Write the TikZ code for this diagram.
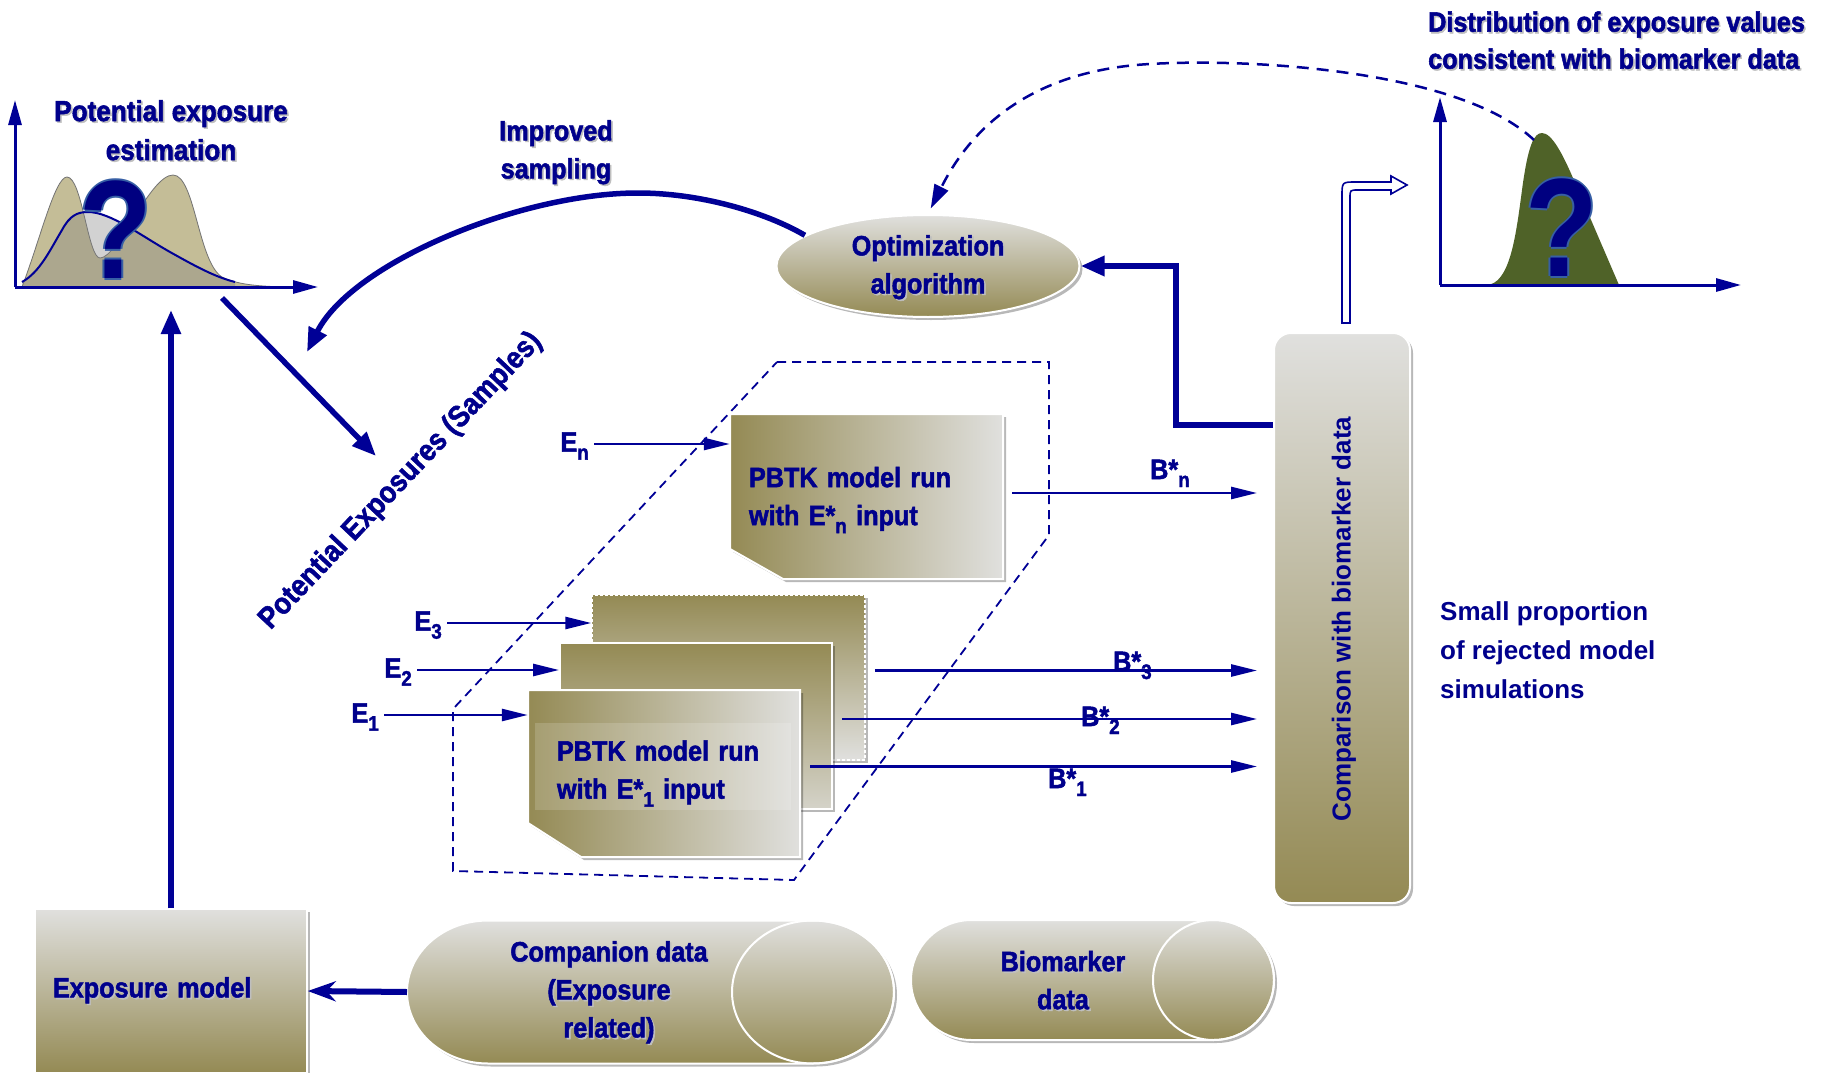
\documentclass[tikz,border=0pt]{standalone}
\usepackage{fontspec}
\setmainfont{Liberation Sans}
\newfontfamily\headfont[FakeStretch=0.9,FakeBold=1.8]{Liberation Sans}
\newfontfamily\qmfont[FakeStretch=0.85]{Liberation Sans}
\usetikzlibrary{arrows.meta,shapes.geometric,shadows,calc}

\definecolor{tanD}{RGB}{148,138,84}
\definecolor{lightG}{RGB}{224,224,222}
\definecolor{ink}{RGB}{0,0,140}
\definecolor{lineblue}{RGB}{0,0,150}
\definecolor{qnavy}{RGB}{0,0,128}
\definecolor{qedge}{RGB}{55,95,165}
\definecolor{hump}{RGB}{196,189,151}
\definecolor{olive}{RGB}{79,98,40}

% text with a soft grey drop shadow
\newcommand\txsh[1]{\leavevmode\rlap{\kern1.6pt\raisebox{-1.6pt}{\color{black!25}#1}}#1}
% lowered index after E* / B*
\newcommand\lsub[1]{\raisebox{-8pt}{\fontsize{21}{21}\selectfont #1}}
% outlined question mark
\newcommand\qglyph{\leavevmode
  \rlap{\kern-2pt\color{qedge}?}\rlap{\kern2pt\color{qedge}?}%
  \rlap{\raisebox{2pt}{\color{qedge}?}}\rlap{\raisebox{-2pt}{\color{qedge}?}}?}

\begin{document}
\begin{tikzpicture}[x=1pt,y=-1pt,
  head/.style={font=\headfont\bfseries\fontsize{28}{38}\selectfont, text=ink, align=center, inner sep=0pt},
  plain/.style={font=\bfseries\fontsize{26}{39}\selectfont, text=ink, align=left, inner sep=0pt},
  idx/.style={font=\headfont\bfseries\fontsize{28}{34}\selectfont, text=ink, inner sep=0pt},
  fatarrow/.style={draw=lineblue, line width=5.5pt, -{Triangle[length=24pt,width=19pt]}},
  slimarrow/.style={draw=lineblue, line width=2.6pt, -{Triangle[length=26pt,width=12pt]}},
  axisarrow/.style={draw=lineblue, line width=3pt, -{Triangle[length=25pt,width=13pt]}},
  softshadow/.style={drop shadow={shadow xshift=3pt, shadow yshift=-3pt, opacity=0.28, fill=black}},
  vgrad/.style={top color=lightG, bottom color=tanD},
  hgrad/.style={left color=tanD, right color=lightG},
  qmark/.style={font=\qmfont\bfseries\fontsize{140}{140}\selectfont, text=qnavy, inner sep=0pt},
  boxtext/.style={font=\headfont\bfseries\fontsize{28}{38}\selectfont, text=ink, align=left,
                  inner ysep=0pt, minimum height=165pt}
]
\useasboundingbox (0,0) rectangle (1832,1073);
\fill[white] (0,0) rectangle (1832,1073);

% ---------- left chart: potential exposure ----------
\filldraw[fill=hump, draw=black!55, line width=0.8pt]
  (22,287) .. controls (40,240) and (55,177) .. (67,177)
  .. controls (82,177) and (88,258) .. (100,258)
  .. controls (118,258) and (150,175) .. (173,175)
  .. controls (195,175) and (198,262) .. (222,277)
  .. controls (240,286) and (265,286) .. (282,287) -- cycle;
\fill[gray, opacity=0.35]
  (22,282) .. controls (40,272) and (50,250) .. (62,230)
  .. controls (70,215) and (78,212) .. (88,212)
  .. controls (110,212) and (140,235) .. (170,252)
  .. controls (195,266) and (215,277) .. (235,282) -- (235,287) -- (22,287) -- cycle;
\draw[lineblue, line width=2pt]
  (22,282) .. controls (40,272) and (50,250) .. (62,230)
  .. controls (70,215) and (78,212) .. (88,212)
  .. controls (110,212) and (140,235) .. (170,252)
  .. controls (195,266) and (215,277) .. (235,282);
\coordinate (oL) at (15,287);
\coordinate (yL) at (15,100);
\coordinate (xL) at (318,287);
\draw[axisarrow] (oL) -- (yL);
\draw[axisarrow] (oL) -- (xL);
\node[qmark] (qL) at (116,230) {\qglyph};
\node[head, font=\headfont\bfseries\fontsize{29}{39}\selectfont] (ttlL) at (171,131)
  {\txsh{Potential exposure}\\\txsh{estimation}};

% ---------- right chart: accepted exposure distribution ----------
\fill[olive] (1486,285) .. controls (1510,285) and (1516,235) .. (1522,190)
  .. controls (1528,145) and (1534,133) .. (1542,133)
  .. controls (1552,133) and (1563,155) .. (1573,178) -- (1619,285) -- cycle;
\coordinate (oR) at (1440,285);
\coordinate (yR) at (1440,97);
\coordinate (xR) at (1741,285);
\draw[axisarrow] (oR) -- (yR);
\draw[axisarrow] (oR) -- (xR);
\node[qmark] (qR) at (1562,228) {\qglyph};
\node[head, align=left, anchor=west, font=\headfont\bfseries\fontsize{28}{37}\selectfont] (ttlR) at (1428,41)
  {\txsh{Distribution of exposure values}\\\txsh{consistent with biomarker data}};

% ---------- dashed frame round the model runs ----------
\draw[lineblue, line width=1.8pt, dash pattern=on 9pt off 6pt]
  (777,362) -- (1049,362) -- (1049,535) -- (794,880) -- (453,871) -- (453,709) -- cycle;

% ---------- stacked PBTK model runs ----------
\node[draw=white, line width=1.5pt, dash pattern=on 3pt off 2pt, top color=tanD, bottom color=lightG,
      minimum width=273pt, minimum height=165pt, inner sep=0pt, softshadow] (b3) at (728.5,677.5) {};
\node[draw=white, line width=2pt, top color=tanD, bottom color=lightG!85!tanD,
      minimum width=272pt, minimum height=166pt, inner sep=0pt, softshadow] (b2) at (696,726) {};
\shadedraw[hgrad, draw=white, line width=2pt, softshadow]
  (528,690) -- (800,690) -- (800,857) -- (581,857) -- (528,823) -- cycle;
\fill[white, opacity=0.16] (535,723) rectangle (791,810);
\node[boxtext, minimum width=272pt, text width=214pt, inner xsep=29pt, minimum height=167pt] (b1) at (664,773.5)
  {PBTK model run\\with E*\lsub{1} input};

\shadedraw[hgrad, draw=white, line width=2pt, softshadow]
  (730,414) -- (1003,414) -- (1003,579) -- (783,579) -- (730,549) -- cycle;
\node[boxtext, minimum width=273pt, text width=235pt, inner xsep=19pt] (bn) at (866.5,500)
  {PBTK model run\\with E*\lsub{n} input};

% ---------- sampled exposures entering the runs ----------
\node[idx, anchor=mid east, inner xsep=5pt] (En) at (594,449) {E\lsub{n}};
\node[idx, anchor=mid east, inner xsep=5pt] (E3) at (447,628) {E\lsub{3}};
\node[idx, anchor=mid east, inner xsep=5pt] (E2) at (417,675) {E\lsub{2}};
\node[idx, anchor=mid east, inner xsep=5pt] (E1) at (384,720) {E\lsub{1}};
\draw[slimarrow] ([yshift=5pt]En.mid east) -- ([yshift=5pt]En.mid east -| bn.west);
\draw[slimarrow] ([yshift=5pt]E3.mid east) -- ([yshift=5pt]E3.mid east -| b3.west);
\draw[slimarrow] ([yshift=5pt]E2.mid east) -- ([yshift=5pt]E2.mid east -| b2.west);
\draw[slimarrow] ([yshift=5pt]E1.mid east) -- ([yshift=5pt]E1.mid east -| b1.west);

% ---------- comparison with biomarker data ----------
\node[rectangle, rounded corners=17pt, vgrad, draw=white, line width=2pt, softshadow,
      minimum width=136pt, minimum height=570pt, inner sep=0pt] (cmp) at (1342,618) {};
\node[plain, rotate=90] (cmptxt) at (1344,619) {Comparison with biomarker data};

% ---------- predicted biomarker levels ----------
\draw[slimarrow, shorten <=9pt, shorten >=16pt] ([yshift=7pt]bn.east) -- ([yshift=7pt]bn.east -| cmp.west);
\draw[slimarrow, shorten <=9pt, shorten >=16pt] ([yshift=7pt]b3.east) -- ([yshift=7pt]b3.east -| cmp.west);
\draw[slimarrow, shorten <=9pt, shorten >=16pt] ([yshift=7pt]b2.east) -- ([yshift=7pt]b2.east -| cmp.west);
\draw[slimarrow, shorten <=10pt, shorten >=16pt] ([yshift=7pt]b1.east) -- ([yshift=7pt]b1.east -| cmp.west);
\node[idx, anchor=base west] (Bn) at (1150,479) {B*\lsub{n}};
\node[idx, anchor=base west] (B3) at (1113,671) {B*\lsub{3}};
\node[idx, anchor=base west] (B2) at (1081,726) {B*\lsub{2}};
\node[idx, anchor=base west] (B1) at (1048,788) {B*\lsub{1}};

\node[plain, anchor=west] (rej) at (1440,650) {Small proportion\\of rejected model\\simulations};

% hollow arrow leaving the comparison step
\filldraw[fill=white, draw=lineblue, line width=1.6pt]
  (1342,323) -- (1342,196) .. controls (1342,182) .. (1356,182) -- (1391,182) -- (1391,176)
  -- (1407,185) -- (1391,194) -- (1391,190) -- (1358,190) .. controls (1350,190) .. (1350,198)
  -- (1350,323) -- cycle;

% ---------- optimization algorithm ----------
\node[ellipse, vgrad, draw=white, line width=2pt, softshadow,
      minimum width=303pt, minimum height=102pt, inner sep=0pt] (opt) at (928,266) {};
\node[head] (opttxt) at (928,268) {\txsh{Optimization}\\\txsh{algorithm}};

\draw[fatarrow, line width=6pt] ([yshift=193pt]cmp.west) -- ++(-97,0) |- (opt.east);

\coordinate (peakR) at (1534,140);
\draw[lineblue, line width=2.5pt, dash pattern=on 12pt off 8pt, shorten >=6pt,
      -{Triangle[length=24pt,width=15pt]}]
  (peakR) .. controls (1460,70) and (1250,58) .. (1150,64)
  .. controls (1040,70) and (975,120) .. (opt.north);

\coordinate (sampTip) at (307,352);
\draw[fatarrow] (opt.166) .. controls (765,212) and (700,193) .. (638,193)
  .. controls (520,193) and (352,263) .. (sampTip);
\node[head] (impr) at (556,153) {\txsh{Improved}\\\txsh{sampling}};

\coordinate (sampFrom) at (222,298);
\coordinate (sampTo) at (376,456);
\draw[fatarrow] (sampFrom) -- (sampTo);
\node[head, rotate=46.6, font=\headfont\bfseries\fontsize{30}{36}\selectfont] (potex) at (401,481)
  {Potential Exposures (Samples)};

% ---------- exposure model and data stores ----------
\node[rectangle, vgrad, draw=white, line width=1.5pt, softshadow, minimum width=272pt, minimum height=164pt,
      head, text width=236pt, align=left, inner xsep=18pt] (expm) at (171,991) {\txsh{Exposure model}};
\coordinate (chartL) at (171,310);
\draw[fatarrow] (expm.north) -- (chartL);

\shadedraw[vgrad, draw=white, line width=2pt, softshadow]
  (488,920.5) -- (813,920.5) arc[start angle=90, end angle=-90, x radius=81pt, y radius=71.5pt]
  -- (488,1063.5) arc[start angle=270, end angle=90, x radius=81pt, y radius=71.5pt] -- cycle;
\draw[white, line width=2pt] (813,992) ellipse[x radius=81pt, y radius=71.5pt];
\node[head] (comptxt) at (609,993) {\txsh{Companion data}\\\txsh{(Exposure}\\\txsh{related)}};

\shadedraw[vgrad, draw=white, line width=2pt, softshadow]
  (971.5,920) -- (1213.5,920) arc[start angle=90, end angle=-90, x radius=60.5pt, y radius=60pt]
  -- (971.5,1040) arc[start angle=270, end angle=90, x radius=60.5pt, y radius=60pt] -- cycle;
\draw[white, line width=2pt] (1213.5,980) ellipse[x radius=60.5pt, y radius=60pt];
\node[head] (biotxt) at (1063,981) {\txsh{Biomarker}\\\txsh{data}};

\coordinate (compL) at (407,992);
\draw[fatarrow, line width=6pt, -{Stealth[length=28pt,width=20pt]}] (compL) -- (expm.east);
\end{tikzpicture}
\end{document}
